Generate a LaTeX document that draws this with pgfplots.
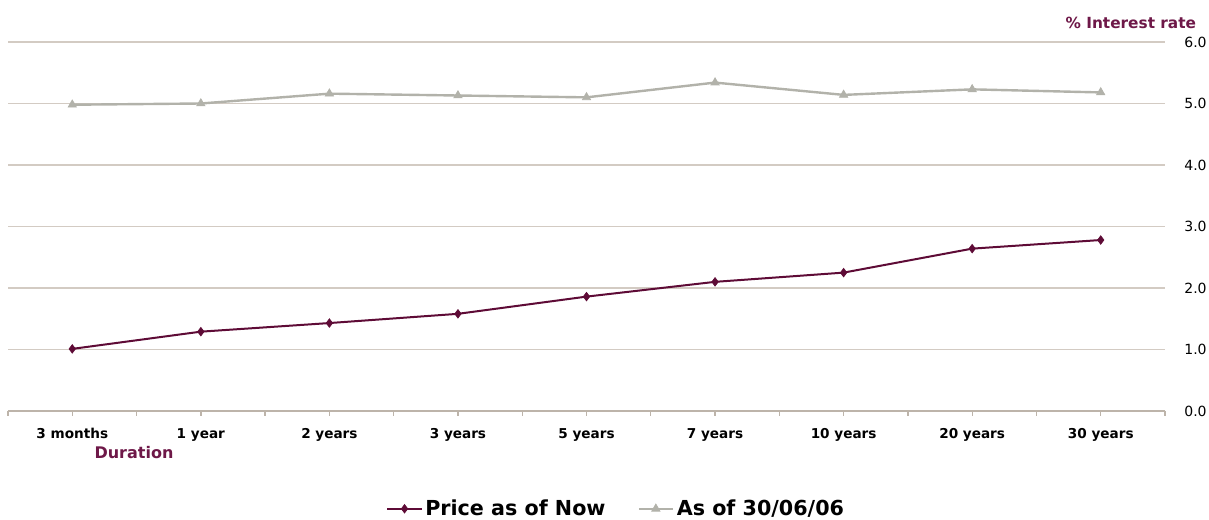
\documentclass[border=0pt]{standalone}
\usepackage{fontspec}
\setmainfont{DejaVu Sans}
\usepackage{pgfplots}
\pgfplotsset{compat=1.18}
\definecolor{maroon}{HTML}{5E0B36}
\definecolor{greyline}{HTML}{B2B2AA}
\definecolor{gridc}{HTML}{D3CBC3}
\definecolor{axisc}{HTML}{BDB4AA}
\definecolor{purp}{HTML}{6E1848}
\begin{document}
\begin{tikzpicture}
\useasboundingbox (-6pt,-81.75pt) rectangle (900.75pt,308.25pt);
\begin{axis}[
  at={(0,0)}, anchor=south west,
  scale only axis, width=867.75pt, height=276.75pt,
  xmin=-0.5, xmax=8.5, ymin=0, ymax=6,
  axis x line*=bottom, axis y line*=right,
  x axis line style={draw=axisc, line width=1.5pt, -},
  y axis line style={draw=none},
  xtick={0,...,8},
  xticklabels={3 months,1 year,2 years,3 years,5 years,7 years,10 years,20 years,30 years},
  minor xtick={-0.5,0.5,...,8.5},
  tick align=outside,
  major tick length=3.5pt, minor tick length=3.5pt,
  x tick style={draw=axisc, line width=1pt},
  minor x tick style={draw=axisc, line width=1pt},
  ytick={0,1,...,6},
  y tick style={draw=none},
  ymajorgrids,
  major grid style={draw=gridc, line width=1pt},
  yticklabel pos=right,
  yticklabel style={anchor=west, xshift=7.5pt, font=\fontsize{10.5pt}{12pt}\selectfont},
  /pgf/number format/assume math mode=true,
  /pgf/number format/fixed, /pgf/number format/fixed zerofill, /pgf/number format/precision=1,
  xticklabel style={font=\bfseries\fontsize{10.2pt}{12pt}\selectfont, yshift=-5pt, text height=1.6ex, text depth=0.4ex},
  clip=false,
  legend image code/.code={\draw[mark repeat=2,mark phase=2] plot coordinates {(0cm,0cm) (0.45cm,0cm) (0.9cm,0cm)};},
  legend style={at={(0.526,-0.265)}, anchor=center, draw=none, fill=none,
    font=\bfseries\fontsize{15.5pt}{18pt}\selectfont, legend columns=2,
    /tikz/every even column/.append style={column sep=22pt}},
  legend cell align=left,
]
\addplot[color=maroon, line width=1.5pt, mark=diamond*, mark size=3.2pt, mark options={fill=maroon, draw=maroon, line width=0.5pt}]
  coordinates {(0,1.01) (1,1.29) (2,1.43) (3,1.58) (4,1.86) (5,2.10) (6,2.25) (7,2.64) (8,2.78)};
\addlegendentry{Price as of Now}
\addplot[color=greyline, line width=1.8pt, mark=triangle*, mark size=3.6pt, mark options={fill=greyline, draw=greyline, line width=0.5pt}]
  coordinates {(0,4.98) (1,5.00) (2,5.16) (3,5.13) (4,5.10) (5,5.34) (6,5.14) (7,5.23) (8,5.18)};
\addlegendentry{As of 30/06/06}
\node[anchor=south east, text=purp, font=\bfseries\fontsize{11.5pt}{13pt}\selectfont, inner sep=0pt] at (rel axis cs:1,1) [xshift=23.5pt, yshift=10pt] {\% Interest rate};
\node[anchor=center, text=purp, font=\bfseries\fontsize{12pt}{14pt}\selectfont, inner sep=0pt] at (axis cs:0.48,0) [yshift=-31pt] {Duration};
\end{axis}
\end{tikzpicture}
\end{document}
